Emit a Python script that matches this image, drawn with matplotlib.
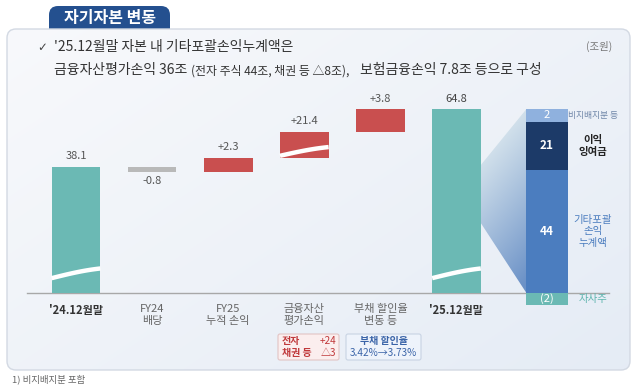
import numpy as np
import matplotlib
matplotlib.use("Agg")
import matplotlib.pyplot as plt
from matplotlib.patches import FancyBboxPatch, Polygon

plt.rcParams['font.family'] = ['Noto Sans CJK KR', 'DejaVu Sans']

# ---------------- data ----------------
categories = ["'24.12월말", "FY24\n배당", "FY25\n누적 손익", "금융자산\n평가손익", "부채 할인율\n변동 등", "'25.12월말"]
start_value = 38.1
changes = [-0.8, 2.3, 21.4, 3.8]
end_value = 64.8
change_labels = ["-0.8", "+2.3", "+21.4", "+3.8"]

stack_names = ["자사주", "기타포괄\n손익\n누계액", "이익\n잉여금", "비지배지분 등"]
stack_values = [-2, 44, 21, 2]
stack_labels = ["(2)", "44", "21", "2"]

# ---------------- colours ----------------
TEAL = "#6bb9b4"
RED = "#c94f4f"
GRAY = "#b9b9b9"
STACK_COLORS = ["#6bb9b4", "#4b7dbf", "#1c3a68", "#8fb1de"]
TXT = "#555555"

W, H = 640, 388
fig = plt.figure(figsize=(6.4, 3.88), dpi=100)

# background / pixel axes
bg = fig.add_axes([0, 0, 1, 1])
bg.set_xlim(0, W)
bg.set_ylim(H, 0)
bg.axis('off')

# title tab
tab = FancyBboxPatch((49, 6), 121, 34, boxstyle="round,pad=0,rounding_size=9",
                     fc="#24508f", ec="none", zorder=1)
bg.add_patch(tab)
bg.text(110, 18, "자기자본 변동", color="white", fontsize=11.5, fontweight="bold",
        ha="center", va="center", zorder=5)

# panel with subtle gradient
panel = FancyBboxPatch((7, 29), 623, 341, boxstyle="round,pad=0,rounding_size=9",
                       fc="none", ec="#d3d9e3", lw=1.0, zorder=3)
bg.add_patch(panel)
gx, gy = np.meshgrid(np.linspace(0, 1, 200), np.linspace(0, 1, 120))
f = np.clip(0.55 * gx + 0.45 * gy, 0, 1)[..., None]
c0 = np.array([0.972, 0.976, 0.986])
c1 = np.array([0.898, 0.925, 0.962])
img = c0 * (1 - f) + c1 * f
im = bg.imshow(img, extent=(7, 630, 370, 29), aspect='auto', zorder=2, interpolation='bilinear')
clip = FancyBboxPatch((7, 29), 623, 341, boxstyle="round,pad=0,rounding_size=9",
                      fc="none", ec="none", transform=bg.transData)
bg.add_patch(clip)
im.set_clip_path(clip)

# subtitle texts
bg.text(37, 47, "✓", fontsize=8.5, color="#444444", ha="left", va="center",
        family=['DejaVu Sans'], zorder=5)
bg.text(54, 47, "'25.12월말 자본 내 기타포괄손익누계액은", fontsize=10, color="#333333",
        ha="left", va="center", zorder=5)
bg.text(54, 70, "금융자산평가손익 36조", fontsize=10, color="#333333", ha="left", va="center", zorder=5)
bg.text(191, 71, "(전자 주식 44조, 채권 등 △8조),", fontsize=8.6, color="#333333", ha="left", va="center", zorder=5)
bg.text(360, 70, "보험금융손익 7.8조 등으로 구성", fontsize=10, color="#333333", ha="left", va="center", zorder=5)
bg.text(599, 46, "(조원)", fontsize=7.5, color="#777777", ha="center", va="center", zorder=5)
bg.text(12, 379, "1) 비지배지분 포함", fontsize=6.8, color="#666666", ha="left", va="center", zorder=5)

# ---------------- scales ----------------
X0, DX = 76.0, 76.1          # pixel centre of first bar, spacing
BASE = 293.0                 # baseline pixel (from top)

wf_vals = np.array([-300.0, 0.0, 37.0, 39.6, 61.0, 300.0])
s0 = 119.4 / 37.0
wf_disp = np.array([-300.0 * s0, 0.0, 119.4, 135.0, 161.0, 161.0 + 239.0 * 6.0])

st_vals = np.array([-300.0, -2.0, 0.0, 44.0, 65.0, 67.0, 300.0])
st_disp = np.array([-12.0 - 298.0 * 6.0, -12.0, 0.0, 123.0, 171.0, 184.0, 184.0 + 233.0 * 6.0])


def make_fns(v, d):
    return (lambda x: np.interp(x, v, d), lambda y: np.interp(y, d, v))


wf_fwd, wf_inv = make_fns(wf_vals, wf_disp)
st_fwd, st_inv = make_fns(st_vals, st_disp)

xlim = (-X0 / DX, (W - X0) / DX)

ax = fig.add_axes([0, 0, 1, 1])
ax.patch.set_alpha(0)
ax.set_yscale('function', functions=(wf_fwd, wf_inv))
ax.set_xlim(*xlim)
ax.set_ylim(float(wf_inv(BASE - H)), float(wf_inv(BASE)))
ax.axis('off')

sax = fig.add_axes([0, 0, 1, 1])
sax.patch.set_alpha(0)
sax.set_yscale('function', functions=(st_fwd, st_inv))
sax.set_xlim(*xlim)
sax.set_ylim(float(st_inv(BASE - H)), float(st_inv(BASE)))
sax.axis('off')

# ---------------- waterfall ----------------
bw = 0.64
n = len(categories)
xs = np.arange(n)
ax.bar(xs[0], start_value, width=bw, color=TEAL, zorder=3)
ax.bar(xs[-1], end_value, width=bw, color=TEAL, zorder=3)
cum = start_value
bottoms = []
for i, c in enumerate(changes):
    bottoms.append(cum)
    ax.bar(xs[i + 1], c, bottom=cum, width=bw, color=(GRAY if c < 0 else RED), zorder=3)
    cum += c

# value labels
VFS = 8
ax.annotate(f"{start_value:.1f}", (xs[0], start_value), xytext=(0, 4), textcoords='offset points',
            ha='center', va='bottom', fontsize=VFS, color=TXT)
ax.annotate(f"{end_value:.1f}", (xs[-1], end_value), xytext=(0, 4), textcoords='offset points',
            ha='center', va='bottom', fontsize=VFS, color="#444444")
for i, c in enumerate(changes):
    b = bottoms[i]
    if c < 0:
        ax.annotate(change_labels[i], (xs[i + 1], b + c), xytext=(0, -3), textcoords='offset points',
                    ha='center', va='top', fontsize=VFS, color=TXT)
    else:
        ax.annotate(change_labels[i], (xs[i + 1], b + c), xytext=(0, 4), textcoords='offset points',
                    ha='center', va='bottom', fontsize=VFS, color=TXT)

# break marks (white wavy bands)
def brk(axis, xc, y0, y1, width):
    t = np.linspace(0, 1, 40)
    xx = xc - width / 2 + t * width
    yy = y0 + (y1 - y0) * (0.55 * t + 0.45 * np.sin(t * np.pi / 2))
    axis.plot(xx, yy, color="white", lw=3.2, solid_capstyle='butt', zorder=4)

brk(ax, xs[0], 4.6, 7.6, bw)
brk(ax, xs[-1], 4.6, 7.6, bw)
brk(ax, xs[3], 41.4, 48.6, bw)

# baseline
ax.plot([-0.64, 7.0], [0, 0], color="#a8a8a8", lw=1.0, zorder=2)

# category labels
for i, lab in enumerate(categories):
    bold = i in (0, n - 1)
    ax.annotate(lab, (xs[i], 0), xytext=(0, -8), textcoords='offset points', ha='center', va='top',
                fontsize=8, color=("#333333" if bold else "#666666"),
                fontweight=("bold" if bold else "normal"), linespacing=1.2)

# in-bar texts
bg.text(76, 230, "기시\n자본", color="white", fontsize=8.5, ha="center", va="center", zorder=6, linespacing=1.2)
bg.text(90, 219, "1)", color="white", fontsize=4, ha="center", va="center", zorder=6)
bg.text(455, 201, "기말\n자본", color="white", fontsize=8.5, ha="center", va="center", zorder=6, linespacing=1.2)
bg.text(471, 196, "1)", color="white", fontsize=4, ha="center", va="center", zorder=6)

# annotation boxes
b1 = FancyBboxPatch((278, 334), 61, 26, boxstyle="round,pad=0,rounding_size=2",
                    fc="#fbeeee", ec="#e2c4c4", lw=0.8, zorder=5)
bg.add_patch(b1)
bg.text(282, 341, "전자", color="#c0393b", fontsize=7.2, ha="left", va="center", fontweight="bold", zorder=6)
bg.text(336, 341, "+24", color="#c0393b", fontsize=7.2, ha="right", va="center", zorder=6)
bg.text(282, 353, "채권 등", color="#c0393b", fontsize=7.2, ha="left", va="center", fontweight="bold", zorder=6)
bg.text(336, 353, "△3", color="#c0393b", fontsize=7.2, ha="right", va="center", zorder=6)
b2 = FancyBboxPatch((346, 334), 75, 26, boxstyle="round,pad=0,rounding_size=2",
                    fc="#eef3fb", ec="#c8d3e3", lw=0.8, zorder=5)
bg.add_patch(b2)
bg.text(383.5, 341, "부채 할인율", color="#3a64a8", fontsize=7.2, ha="center", va="center", fontweight="bold", zorder=6)
bg.text(383.5, 353, "3.42%→3.73%", color="#3a64a8", fontsize=7.2, ha="center", va="center", zorder=6)

# ---------------- stacked breakdown ----------------
sx = (547 - X0) / DX
sw = 0.54
cum_pos = 0.0
for k, v in enumerate(stack_values):
    if v < 0:
        bot = 0.0
    else:
        bot = cum_pos
        cum_pos += v
    sax.bar(sx, v, bottom=bot, width=sw, color=STACK_COLORS[k], zorder=3)
    mid = bot + v / 2
    sax.text(sx, mid, stack_labels[k], color="white", fontsize=8.5 if k in (1, 2) else 8,
             fontweight="bold" if k in (1, 2) else "normal", ha="center", va="center", zorder=5)

side_x = (593 - X0) / DX
side_colors = ["#5fb5ae", "#4b7dbf", "#222222", "#6f86a8"]
side_sizes = [7.5, 7.5, 7.5, 6.3]
cum_pos = 0.0
for k, v in enumerate(stack_values):
    if v < 0:
        bot = 0.0
    else:
        bot = cum_pos
        cum_pos += v
    mid = bot + v / 2
    sax.text(side_x, mid, stack_names[k], color=side_colors[k], fontsize=side_sizes[k],
             fontweight="bold" if k == 2 else "normal", ha="center", va="center", linespacing=1.15, zorder=5)

# fan connecting end bar and breakdown (gradient)
fig.canvas.draw()
left_x = xs[-1] + bw / 2
right_x = sx - sw / 2
pts_data = [(left_x, 46.2), (right_x, 67.0), (right_x, 0.0), (left_x, 25.0)]
disp = sax.transData.transform(pts_data)
pix = bg.transData.inverted().transform(disp)
fan = Polygon(pix, closed=True, fc="none", ec="none", transform=bg.transData)
bg.add_patch(fan)
xmin, xmax = pix[:, 0].min(), pix[:, 0].max()
ymin, ymax = pix[:, 1].min(), pix[:, 1].max()
fx, fy = np.meshgrid(np.linspace(0, 1, 60), np.linspace(0, 1, 120))
ff = np.clip(0.85 * fy + 0.25 * fx - 0.05, 0, 1) ** 1.1
ca = np.array([0.90, 0.94, 0.95])
cb = np.array([0.42, 0.57, 0.78])
fimg = ca * (1 - ff[..., None]) + cb * ff[..., None]
fim = bg.imshow(fimg, extent=(xmin, xmax, ymax, ymin), aspect='auto', zorder=4, interpolation='bilinear')
fim.set_clip_path(fan)
bg.set_xlim(0, W)
bg.set_ylim(H, 0)

fig.savefig("out.png", dpi=100)
